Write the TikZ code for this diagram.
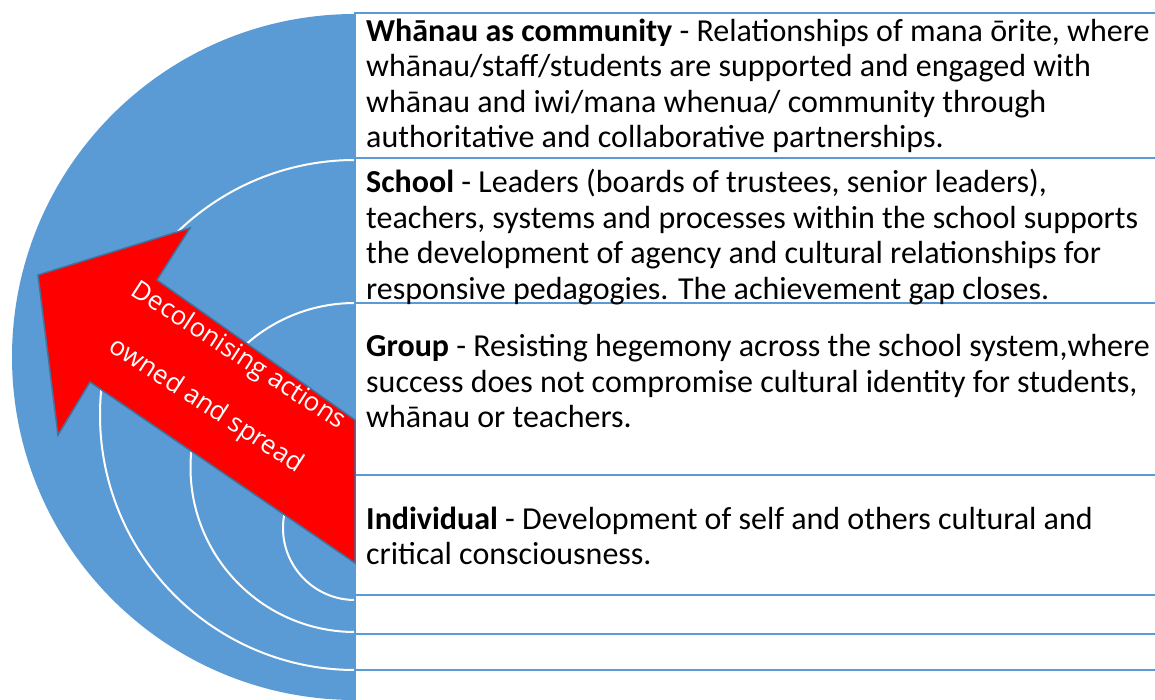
\documentclass[tikz,border=0pt]{standalone}
\usepackage{fontspec}
\usepackage{xcolor}
\setmainfont{Carlito}
\newfontfamily\arrowfont{Open Sans}
\definecolor{ringblue}{HTML}{5B9BD5}
\definecolor{edgeblue}{HTML}{41719C}
\definecolor{arrowred}{HTML}{FF0000}

\begin{document}
\begin{tikzpicture}[x=1pt, y=-1pt,
    rowtext/.style={anchor=west, align=left, inner sep=0pt, font=\fontsize{32}{35.5}\selectfont},
    ring/.style={draw=white, line width=2pt},
    rowline/.style={draw=ringblue, line width=2.5pt}]
    \useasboundingbox (0,0) rectangle (1155,700);

    % Half circle with rings
    \begin{scope}
        \clip (0,0) rectangle (355,700);
        \fill[ringblue] (355,357) circle[radius=343];
        \draw[ring] (355,415) circle[radius=255];
        \draw[ring] (355,467.5) circle[radius=164.5];
        \draw[ring] (355,528) circle[radius=72];
    \end{scope}

    % Table rows
    \draw[rowline] (1155,13) -- (355,13) -- (355,700);
    \foreach \y in {158,303,475,595,634,670}
        \draw[rowline] (355,\y) -- (1155,\y);

    \node[rowtext] (whanau) at (366,86) {\textbf{Whānau as community} - Relationships of mana ōrite, where\\
        whānau/staff/students are supported and engaged with\\
        whānau and iwi/mana whenua/ community through\\
        authoritative and collaborative partnerships.};
    \node[rowtext] (school) at (366,237) {\textbf{School} - Leaders (boards of trustees, senior leaders),\\
        teachers, systems and processes within the school supports\\
        the development of agency and cultural relationships for\\
        responsive pedagogies. The achievement gap closes.};
    \node[rowtext] (group) at (366,381.5) {\textbf{Group} - Resisting hegemony across the school system,where\\
        success does not compromise cultural identity for students,\\
        whānau or teachers.};
    \node[rowtext] (individual) at (366,536) {\textbf{Individual} - Development of self and others cultural and\\
        critical consciousness.};

    % Arrow
    \filldraw[fill=arrowred, draw=edgeblue, line width=1.5pt, line join=miter]
        (38,275) -- (190,228) -- (157,280) -- (355,420) -- (355,563) -- (90,382) -- (58,435) -- cycle;
    \node[rotate=-33, text=white, align=center, inner sep=0pt,
        font=\arrowfont\fontsize{26}{59}\selectfont] (actions) at (222,381)
        {Decolonising actions\\ owned and spread};
\end{tikzpicture}
\end{document}
